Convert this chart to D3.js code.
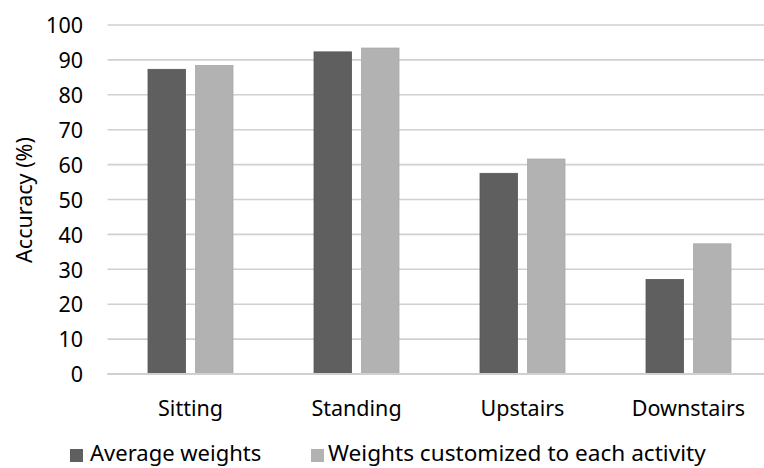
<!DOCTYPE html>
<html>
<head>
<meta charset="utf-8">
<script src="https://cdn.jsdelivr.net/npm/d3@7"></script>
<style>
  html, body { margin: 0; padding: 0; background: #fff; }
  svg text { font-family: "Noto Sans", "Open Sans", sans-serif; fill: #000; }
</style>
</head>
<body>
<svg id="chart" width="764" height="468"></svg>
<script>
// Activity categories and accuracy (%) for each weighting scheme
const categories = ["Sitting", "Standing", "Upstairs", "Downstairs"];
const seriesNames = ["Average weights", "Weights customized to each activity"];
const averageWeights = [87.3, 92.3, 57.5, 27.1];
const customizedWeights = [88.4, 93.4, 61.6, 37.3];
const yTicks = [0, 10, 20, 30, 40, 50, 60, 70, 80, 90, 100];
const colors = ["#5f5f5f", "#b2b2b2"];

const svg = d3.select("#chart");
const W = 764, H = 468;
const plotLeft = 107.5, band = 166, plotTop = 25, plotBottom = 374;

// Category bands; the last band runs slightly past the right edge
const x = d3.scaleBand().domain(categories)
  .range([plotLeft, plotLeft + band * categories.length]);
// Two bars per category, 85px group centred in the band
const x1 = d3.scaleBand().domain([0, 1])
  .range([band / 2 - 42.5, band / 2 + 42.5]).paddingInner(0.21);
const y = d3.scaleLinear().domain([0, 100]).range([plotBottom, plotTop]);

const gridColor = "#d0d0d0";

// Horizontal gridlines
svg.append("g").selectAll("line").data(yTicks).join("line")
  .attr("x1", plotLeft).attr("x2", W)
  .attr("y1", d => y(d)).attr("y2", d => y(d))
  .attr("stroke", gridColor).attr("stroke-width", 1.6);

// Y axis labels
const yAxis = d3.axisLeft(y).tickValues(yTicks).tickSize(0).tickPadding(0);
const gy = svg.append("g").attr("transform", `translate(83,0)`).call(yAxis);
gy.select(".domain").remove();
gy.selectAll("text").style("font-size", "21.5px").attr("dy", "0.36em")
  .style("font-family", "'Noto Sans', sans-serif");

// Bars
const rows = categories.map((c, i) => ({ cat: c, vals: [averageWeights[i], customizedWeights[i]] }));
const groups = svg.append("g").selectAll("g").data(rows).join("g")
  .attr("transform", d => `translate(${x(d.cat)},0)`);
groups.selectAll("rect").data(d => d.vals.map((v, k) => ({ v, k }))).join("rect")
  .attr("x", d => x1(d.k))
  .attr("width", x1.bandwidth())
  .attr("y", d => y(d.v))
  .attr("height", d => y(0) - y(d.v))
  .attr("fill", d => colors[d.k])
  .attr("stroke", d => d.k === 0 ? "#575757" : "#a9a9a9")
  .attr("stroke-width", 0.8);

// Baseline
svg.append("line")
  .attr("x1", plotLeft).attr("x2", W)
  .attr("y1", y(0)).attr("y2", y(0))
  .attr("stroke", gridColor).attr("stroke-width", 1.8);

// Category labels
const xAxis = d3.axisBottom(x).tickSize(0).tickPadding(0);
const gx = svg.append("g").attr("transform", `translate(0,${y(0) + 42})`).call(xAxis);
gx.select(".domain").remove();
gx.selectAll("text").style("font-size", "21.5px").attr("dy", "0").attr("y", 0)
  .style("font-family", "'Noto Sans', sans-serif");

// Y axis title
svg.append("text")
  .attr("transform", `translate(32,200) rotate(-90)`)
  .attr("text-anchor", "middle")
  .style("font-size", "21.5px")
  .text("Accuracy (%)");

// Legend
const legendX = [70, 311];
const legend = svg.append("g").selectAll("g").data(seriesNames).join("g")
  .attr("transform", (d, i) => `translate(${legendX[i]},461)`);
legend.append("rect").attr("x", 0).attr("y", -12).attr("width", 13).attr("height", 13)
  .attr("fill", (d, i) => colors[i]);
legend.append("text").attr("x", (d, i) => i === 0 ? 20 : 17).attr("y", 0)
  .style("font-size", (d, i) => i === 0 ? "22px" : "22.6px").text(d => d);
</script>
</body>
</html>
